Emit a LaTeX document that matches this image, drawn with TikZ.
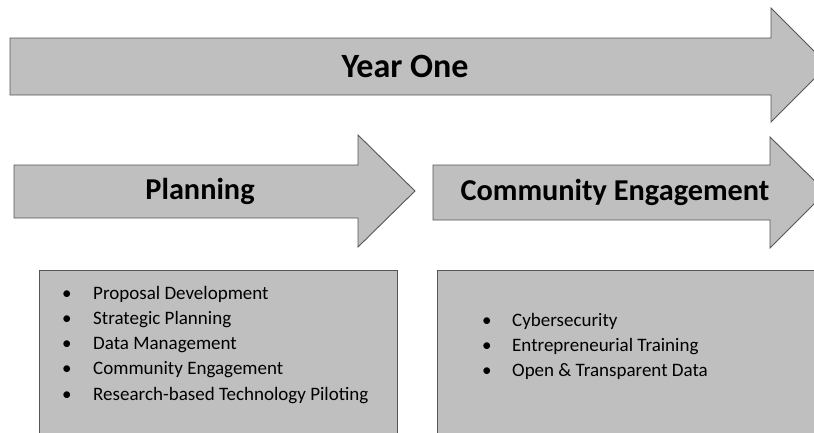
\documentclass[tikz,border=0pt]{standalone}
\usepackage{fontspec}
\setmainfont{Carlito}
\usepackage{tikz}
\usetikzlibrary{positioning}

\definecolor{phasefill}{RGB}{191,191,191}
\definecolor{phaseline}{RGB}{85,85,85}

\tikzset{
  phase/.style={draw=phaseline, fill=phasefill, line width=0.9pt},
  phasetitle/.style={font=\fontsize{30.3}{34}\selectfont\bfseries, inner sep=0pt},
  item/.style={font=\fontsize{19}{22}\selectfont, inner sep=0pt, anchor=west,
    text height=13pt, text depth=4pt}
}

\begin{document}
\begin{tikzpicture}[x=1pt, y=-1pt]
    \useasboundingbox (0,0) rectangle (814,432);
    \clip (0,0) rectangle (814,432);

    % Arrows
    \draw[phase] (10,38) -- (771,38) -- (771,8) -- (828,65) -- (771,122) -- (771,95) -- (10,95) -- cycle;
    \draw[phase] (14,165) -- (358,165) -- (358,135) -- (415,191) -- (358,247) -- (358,218) -- (14,218) -- cycle;
    \draw[phase] (433,165) -- (770,165) -- (770,137) -- (826,192) -- (770,248) -- (770,220) -- (433,220) -- cycle;

    \node[phasetitle, font=\fontsize{34}{38}\selectfont\bfseries] (year) at (405,66) {Year One};
    \node[phasetitle] (plan) at (200,191) {Planning};
    \node[phasetitle] (engage) at (615,192) {Community Engagement};

    % Boxes
    \draw[phase] (39,270) rectangle (397,440);
    \draw[phase] (437,270) rectangle (820,440);

    \node[item] (p1) at (62,295) {\makebox[31pt][l]{\textbullet}Proposal Development};
    \node[item] (p2) at (62,320) {\makebox[31pt][l]{\textbullet}Strategic Planning};
    \node[item] (p3) at (62,345) {\makebox[31pt][l]{\textbullet}Data Management};
    \node[item] (p4) at (62,370) {\makebox[31pt][l]{\textbullet}Community Engagement};
    \node[item] (p5) at (62,396) {\makebox[31pt][l]{\textbullet}Research-based Technology Piloting};

    \node[item] (e1) at (482,322) {\makebox[30pt][l]{\textbullet}Cybersecurity};
    \node[item] (e2) at (482,347) {\makebox[30pt][l]{\textbullet}Entrepreneurial Training};
    \node[item] (e3) at (482,372) {\makebox[30pt][l]{\textbullet}Open \& Transparent Data};
\end{tikzpicture}
\end{document}
